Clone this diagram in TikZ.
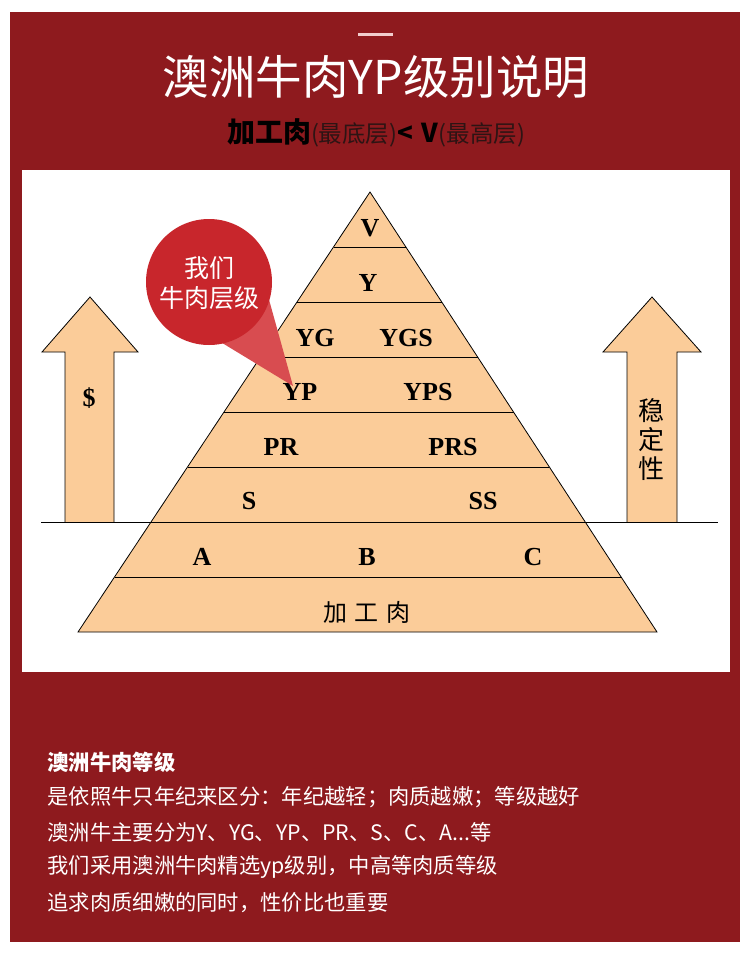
\documentclass[tikz,border=0pt]{standalone}
\usepackage{fontspec}
\setmainfont{Liberation Serif}
\newfontfamily\cjk{Noto Sans CJK SC}
\usetikzlibrary{calc}
\definecolor{bgred}{RGB}{142,26,30}
\definecolor{beef}{RGB}{251,204,153}
\definecolor{bubble}{RGB}{200,38,44}
\definecolor{bubbletail}{RGB}{216,76,80}
\definecolor{dashpink}{RGB}{242,205,205}
\definecolor{subgray}{RGB}{45,20,20}
\begin{document}
\begin{tikzpicture}[x=1pt, y=-1pt,
  grade/.style={font=\fontsize{26}{28}\selectfont\bfseries},
  layer/.style={draw, line width=0.8pt},
  uparrow/.style={draw, fill=beef, line width=0.8pt},
  note/.style={anchor=west, text=white, font=\cjk\fontsize{21.3}{24}\selectfont}
]
\useasboundingbox (0,0) rectangle (750,961);
\fill[white] (0,0) rectangle (750,961);
\fill[bgred] (10,12) rectangle (740,942);
\fill[white] (22,170) rectangle (730,672);

% heading
\fill[dashpink] (358,33) rectangle (393,36);
\node[text=white, font=\cjk\fontsize{46.5}{50}\selectfont] (title) at (376,77)
  {澳洲牛肉YP级别说明};
\node[font=\cjk] (sub) at (376,133)
  {{\fontsize{28}{30}\selectfont\bfseries 加工肉}{\fontsize{23.5}{26}\selectfont\color{subgray}(最底层)}{\fontsize{26}{28}\selectfont\bfseries<\,\,V}{\fontsize{23.5}{26}\selectfont\color{subgray}(最高层)}};

% side arrows
\draw[uparrow] (65,522) -- (65,352) -- (42,352) -- (90,297) -- (138,352)
  -- (114,352) -- (114,522);
\draw[uparrow] (627,522) -- (627,352) -- (603,352) -- (652,297) -- (701,352)
  -- (677,352) -- (677,522);
\node[grade] (money) at (89,398) {\$};
\node[font=\cjk\fontsize{26}{29}\selectfont, align=center] (stable) at (651,440)
  {稳\\定\\性};

% pyramid
\coordinate (top) at (370,192);
\coordinate (bl) at (78,632);
\coordinate (br) at (657,632);
\draw[layer, fill=beef] (top) -- (bl) -- (br) -- cycle;
\foreach \k in {1,...,7}
  \draw[layer] ($(top)!\k/8!(bl)$) -- ($(top)!\k/8!(br)$);
\coordinate (gl) at (41,522);
\coordinate (gr) at (718,522);
\draw[layer] (gl) -- (gr);

\node[grade] (v) at (370,228) {V};
\node[grade] (y) at (368,283) {Y};
\node[grade] (yg) at (315,338) {YG};
\node[grade] (ygs) at (406,338) {YGS};
\node[grade] (yp) at (300,392) {YP};
\node[grade] (yps) at (428,392) {YPS};
\node[grade] (pr) at (281,447) {PR};
\node[grade] (prs) at (453,447) {PRS};
\node[grade] (s) at (249,501) {S};
\node[grade] (ss) at (483,501) {SS};
\node[grade] (a) at (202,557) {A};
\node[grade] (b) at (367,557) {B};
\node[grade] (c) at (533,557) {C};
\node[font=\cjk\fontsize{24}{28}\selectfont] (base) at (367,612) {加\,\,工\,\,肉};

% callout bubble
\fill[bubbletail] (293,386) -- (214,338) -- (268,296) -- cycle;
\fill[bubble] (209,282) circle (63);
\node[text=white, font=\cjk\fontsize{25}{30}\selectfont, align=center]
  (ours) at (209,283) {我们\\牛肉层级};

% notes
\node[note, font=\cjk\bfseries\fontsize{21.3}{24}\selectfont] (n0) at (44,762) {澳洲牛肉等级};
\node[note] (n1) at (44,797) {是依照牛只年纪来区分：年纪越轻；肉质越嫩；等级越好};
\node[note] (n2) at (44,832) {澳洲牛主要分为Y、YG、YP、PR、S、C、A...等};
\node[note] (n3) at (44,867) {我们采用澳洲牛肉精选yp级别，中高等肉质等级};
\node[note] (n4) at (44,903) {追求肉质细嫩的同时，性价比也重要};
\end{tikzpicture}
\end{document}
